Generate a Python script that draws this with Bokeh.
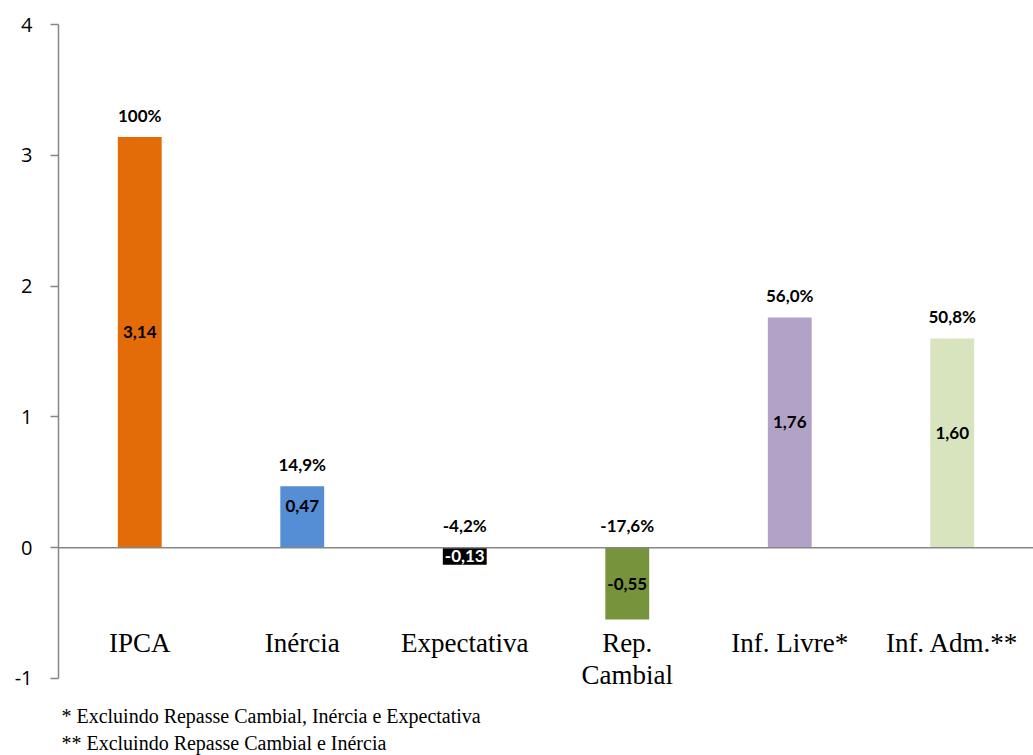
from bokeh.plotting import figure
from bokeh.models import ColumnDataSource, FactorRange, FixedTicker, Span
from bokeh.core.properties import value
from bokeh.embed import file_html
from bokeh.resources import INLINE

# ---- data ----
categories = ["IPCA", "Inércia", "Expectativa", "Rep. Cambial", "Inf. Livre*", "Inf. Adm.**"]
cat_line1 = ["IPCA", "Inércia", "Expectativa", "Rep.", "Inf. Livre*", "Inf. Adm.**"]
cat_line2 = ["", "", "", "Cambial", "", ""]
values = [3.14, 0.47, -0.13, -0.55, 1.76, 1.60]
shares = ["100%", "14,9%", "-4,2%", "-17,6%", "56,0%", "50,8%"]
colors = ["#E36C09", "#558ED5", "#000000", "#77933C", "#B3A2C7", "#D7E4BD"]
value_text_colors = ["#000000", "#000000", "#FFFFFF", "#000000", "#000000", "#000000"]
y_ticks = [-1, 0, 1, 2, 3, 4]
footnotes = ["* Excluindo Repasse Cambial, Inércia e Expectativa",
             "** Excluindo Repasse Cambial e Inércia"]

val_labels = [f"{v:.2f}".replace(".", ",") for v in values]
share_y = [max(v, 0) + 0.168 for v in values]
val_y = [v / 2 + (0.08 if v > 0 else 0) for v in values]

src = ColumnDataSource(dict(cat=categories, val=values, color=colors, vlab=val_labels,
                            vy=val_y, vcol=value_text_colors, share=shares, sy=share_y,
                            l1=cat_line1, l2=cat_line2,
                            l1y=[-0.726] * len(categories), l2y=[-0.973] * len(categories)))

p = figure(width=1033, height=755, x_range=FactorRange(factors=categories),
           y_range=(-1.589, 4), output_backend="svg", toolbar_location=None,
           min_border_left=58, min_border_right=0, min_border_top=24, min_border_bottom=0)
p.outline_line_color = None
p.grid.visible = False
p.xaxis.visible = False
p.background_fill_color = "#FFFFFF"

p.vbar(x="cat", top="val", bottom=0, width=0.27, color="color", source=src, line_color=None)

zero = Span(location=0, dimension="width", line_color="#868686", line_width=1.5, level="overlay")
p.add_layout(zero)

ya = p.yaxis[0]
ya.ticker = FixedTicker(ticks=y_ticks)
ya.bounds = (min(y_ticks), max(y_ticks))
ya.major_label_overrides = {t: str(t) for t in y_ticks}
ya.axis_line_color = "#868686"
ya.axis_line_width = 1.5
ya.major_tick_line_color = "#868686"
ya.major_tick_line_width = 1.5
ya.major_tick_out = 8
ya.major_tick_in = 0
ya.minor_tick_line_color = None
ya.major_label_standoff = 18
ya.major_label_text_font = "Open Sans"
ya.major_label_text_font_size = "20px"
ya.major_label_text_color = "#000000"

label_font = value("Lato")
p.text(x="cat", y="sy", text="share", source=src, text_align="center",
       text_baseline="alphabetic", text_font=label_font, text_font_style="bold",
       text_font_size="17px", text_color="#000000")
p.text(x="cat", y="vy", text="vlab", source=src, text_align="center",
       text_baseline="middle", text_font=label_font, text_font_style="bold",
       text_font_size="17px", text_color="vcol")
for col, ycol in (("l1", "l1y"), ("l2", "l2y")):
    p.text(x="cat", y=ycol, text=col, source=src, text_align="center",
           text_baseline="alphabetic", text_font=value("Liberation Serif"),
           text_font_size="27px", text_color="#000000")

fn_src = ColumnDataSource(dict(x=[0.018] * len(footnotes),
                               y=[-1.285 - 0.205 * i for i in range(len(footnotes))],
                               t=footnotes))
p.text(x="x", y="y", text="t", source=fn_src, text_align="left", text_baseline="alphabetic",
       text_font=value("Liberation Serif"), text_font_size="20px", text_color="#000000")

open("out.html", "w").write(file_html(p, INLINE))
